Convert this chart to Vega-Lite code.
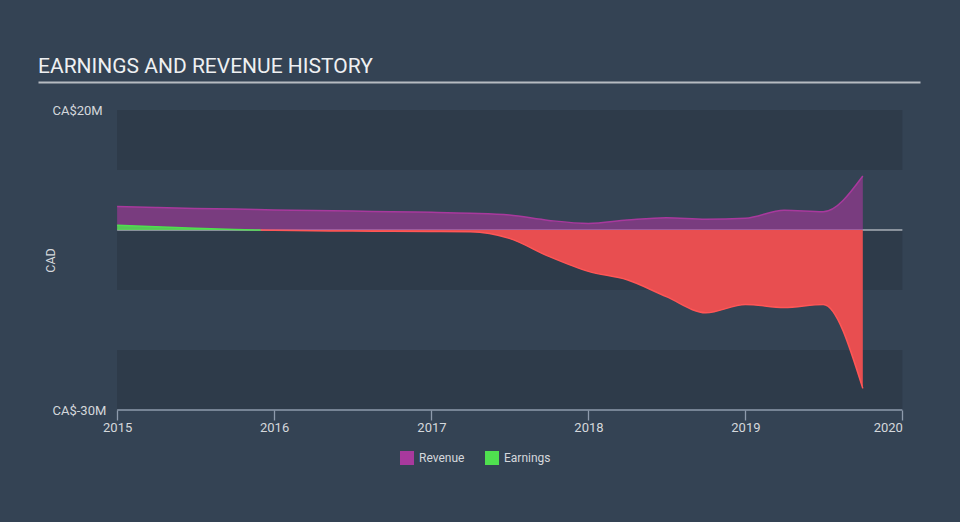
{
  "$schema": "https://vega.github.io/schema/vega-lite/v6.json",
  "autosize": "none",
  "width": 882,
  "height": 300,
  "padding": {"left": 38, "top": 110, "right": 40, "bottom": 112},
  "background": "#344354",
  "config": {
    "font": "Roboto",
    "view": {"stroke": null},
    "axis": {"grid": false}
  },
  "title": {
    "text": "EARNINGS AND REVENUE HISTORY",
    "anchor": "start",
    "frame": "group",
    "fontSize": 21,
    "fontWeight": "normal",
    "color": "#eef0f2",
    "offset": 5
  },
  "datasets": {
    "series": [
      {"date": "2015-01-01T00:00", "series": "Revenue", "value": 3.9},
      {"date": "2015-04-01T00:00", "series": "Revenue", "value": 3.75},
      {"date": "2015-07-01T00:00", "series": "Revenue", "value": 3.6},
      {"date": "2015-10-01T00:00", "series": "Revenue", "value": 3.5},
      {"date": "2016-01-01T00:00", "series": "Revenue", "value": 3.35},
      {"date": "2016-04-01T00:00", "series": "Revenue", "value": 3.25},
      {"date": "2016-07-01T00:00", "series": "Revenue", "value": 3.15},
      {"date": "2016-10-01T00:00", "series": "Revenue", "value": 3.05},
      {"date": "2017-01-01T00:00", "series": "Revenue", "value": 2.95},
      {"date": "2017-04-01T00:00", "series": "Revenue", "value": 2.8},
      {"date": "2017-07-01T00:00", "series": "Revenue", "value": 2.5},
      {"date": "2017-10-01T00:00", "series": "Revenue", "value": 1.6},
      {"date": "2018-01-01T00:00", "series": "Revenue", "value": 1.1},
      {"date": "2018-04-01T00:00", "series": "Revenue", "value": 1.65},
      {"date": "2018-07-01T00:00", "series": "Revenue", "value": 2.05},
      {"date": "2018-10-01T00:00", "series": "Revenue", "value": 1.8},
      {"date": "2019-01-01T00:00", "series": "Revenue", "value": 1.95},
      {"date": "2019-04-01T00:00", "series": "Revenue", "value": 3.3},
      {"date": "2019-07-01T00:00", "series": "Revenue", "value": 3.05},
      {"date": "2019-10-01T00:00", "series": "Revenue", "value": 9.0},
      {"date": "2015-01-01T00:00", "series": "Earnings", "value": 0.8},
      {"date": "2015-04-01T00:00", "series": "Earnings", "value": 0.55},
      {"date": "2015-07-01T00:00", "series": "Earnings", "value": 0.3},
      {"date": "2015-10-01T00:00", "series": "Earnings", "value": 0.08},
      {"date": "2015-12-01T00:00", "series": "Earnings", "value": 0},
      {"date": "2015-12-01T00:00", "series": "EarningsLoss", "value": 0},
      {"date": "2016-01-01T00:00", "series": "EarningsLoss", "value": -0.05},
      {"date": "2016-04-01T00:00", "series": "EarningsLoss", "value": -0.12},
      {"date": "2016-07-01T00:00", "series": "EarningsLoss", "value": -0.18},
      {"date": "2016-10-01T00:00", "series": "EarningsLoss", "value": -0.22},
      {"date": "2017-01-01T00:00", "series": "EarningsLoss", "value": -0.25},
      {"date": "2017-04-01T00:00", "series": "EarningsLoss", "value": -0.3},
      {"date": "2017-07-01T00:00", "series": "EarningsLoss", "value": -1.4},
      {"date": "2017-10-01T00:00", "series": "EarningsLoss", "value": -4.4},
      {"date": "2018-01-01T00:00", "series": "EarningsLoss", "value": -6.9},
      {"date": "2018-04-01T00:00", "series": "EarningsLoss", "value": -8.3},
      {"date": "2018-07-01T00:00", "series": "EarningsLoss", "value": -11.1},
      {"date": "2018-10-01T00:00", "series": "EarningsLoss", "value": -13.8},
      {"date": "2019-01-01T00:00", "series": "EarningsLoss", "value": -12.4},
      {"date": "2019-04-01T00:00", "series": "EarningsLoss", "value": -12.9},
      {"date": "2019-07-01T00:00", "series": "EarningsLoss", "value": -12.4},
      {"date": "2019-10-01T00:00", "series": "EarningsLoss", "value": -26.4}
    ],
    "bands": [
      {"top": 20, "bottom": 10},
      {"top": 0, "bottom": -10},
      {"top": -20, "bottom": -30}
    ]
  },
  "resolve": {"axis": {"x": "independent", "y": "independent"}},
  "layer": [
    {
      "data": {"name": "bands"},
      "mark": {"type": "rect", "color": "#2e3b4a"},
      "encoding": {
        "x": {
          "datum": {"year": 2015, "month": 1, "date": 1},
          "type": "temporal",
          "scale": {"domain": [{"year": 2014, "month": 7, "date": 1}, {"year": 2020, "month": 2, "date": 11}]},
          "axis": {"orient": "top", "offset": 28, "domain": true, "domainColor": "#b6bbc1", "domainWidth": 2, "ticks": false, "labels": false, "grid": false, "title": null}
        },
        "x2": {"datum": {"year": 2020, "month": 1, "date": 1}},
        "y": {"field": "top", "type": "quantitative", "scale": {"domain": [-30, 20]}, "axis": null},
        "y2": {"field": "bottom"}
      }
    },
    {
      "data": {"values": [{}]},
      "mark": {"type": "rule", "color": "#e2e6ea", "strokeWidth": 1.2},
      "encoding": {
        "x": {"datum": {"year": 2015, "month": 1, "date": 1}, "type": "temporal", "axis": null},
        "x2": {"datum": {"year": 2020, "month": 1, "date": 1}},
        "y": {"datum": 0, "type": "quantitative", "axis": null}
      }
    },
    {
      "data": {"values": [{}]},
      "mark": {"type": "rule", "color": "#8e9bac", "strokeWidth": 1.3},
      "encoding": {
        "x": {"datum": {"year": 2015, "month": 1, "date": 1}, "type": "temporal", "axis": null},
        "x2": {"datum": {"year": 2020, "month": 1, "date": 1}},
        "y": {"datum": -30, "type": "quantitative", "axis": null}
      }
    },
    {
      "data": {"name": "series"},
      "transform": [{"filter": "datum.series == 'Revenue'"}],
      "mark": {"type": "area", "interpolate": "monotone", "fillOpacity": 0.6, "line": {"strokeWidth": 1.5, "opacity": 1}},
      "encoding": {
        "x": {
          "field": "date", "type": "temporal",
          "axis": {
            "orient": "bottom",
            "values": [{"year": 2015}, {"year": 2016}, {"year": 2017}, {"year": 2018}, {"year": 2019}, {"year": 2020}],
            "format": "%Y",
            "domain": false,
            "ticks": true,
            "tickColor": "#8e9bac",
            "tickSize": 10,
            "tickWidth": 1.3,
            "labelColor": "#d4d8dc",
            "labelFontSize": 13,
            "labelPadding": 1,
            "labelFlush": false,
            "labelAlign": {"condition": {"test": "year(datum.value) >= 2020", "value": "right"}, "value": "center"},
            "grid": false,
            "title": null
          }
        },
        "y": {
          "field": "value", "type": "quantitative",
          "axis": {
            "values": [-30, 20],
            "labelExpr": "'CA$' + datum.value + 'M'",
            "ticks": false,
            "domain": false,
            "grid": false,
            "labelAlign": "left",
            "labelBaseline": "middle",
            "labelPadding": -14,
            "labelFlush": false,
            "labelColor": "#d4d8dc",
            "labelFontSize": 13,
            "title": "CAD",
            "titleColor": "#d4d8dc",
            "titleFontSize": 12.5,
            "titleFontWeight": "normal",
            "titleAngle": -90,
            "titleX": 19,
            "titleY": 150,
            "titleAlign": "center",
            "titleBaseline": "bottom"
          }
        },
        "color": {
          "field": "series", "type": "nominal",
          "scale": {"domain": ["Revenue", "Earnings"], "range": ["#a8399d", "#4fe04f"]},
          "legend": {
            "title": null,
            "orient": "none",
            "legendX": 362,
            "legendY": 341,
            "direction": "horizontal",
            "symbolType": "square",
            "symbolSize": 196,
            "symbolOpacity": 1,
            "symbolStrokeWidth": 0,
            "labelColor": "#d4d8dc",
            "labelFontSize": 12,
            "labelOffset": 5,
            "columnPadding": 20,
            "padding": 0
          }
        }
      }
    },
    {
      "data": {"name": "series"},
      "transform": [{"filter": "datum.series == 'Earnings'"}],
      "mark": {"type": "area", "interpolate": "monotone", "fillOpacity": 0.85, "line": {"strokeWidth": 1.5}},
      "encoding": {
        "x": {"field": "date", "type": "temporal", "axis": null},
        "y": {"field": "value", "type": "quantitative", "axis": null},
        "color": {"field": "series", "type": "nominal"}
      }
    },
    {
      "data": {"name": "series"},
      "transform": [{"filter": "datum.series == 'EarningsLoss'"}],
      "mark": {"type": "area", "interpolate": "monotone", "color": "#e84e50", "fillOpacity": 1, "line": {"color": "#ff5656", "strokeWidth": 1.5}},
      "encoding": {
        "x": {"field": "date", "type": "temporal", "axis": null},
        "y": {"field": "value", "type": "quantitative", "axis": null}
      }
    }
  ]
}
